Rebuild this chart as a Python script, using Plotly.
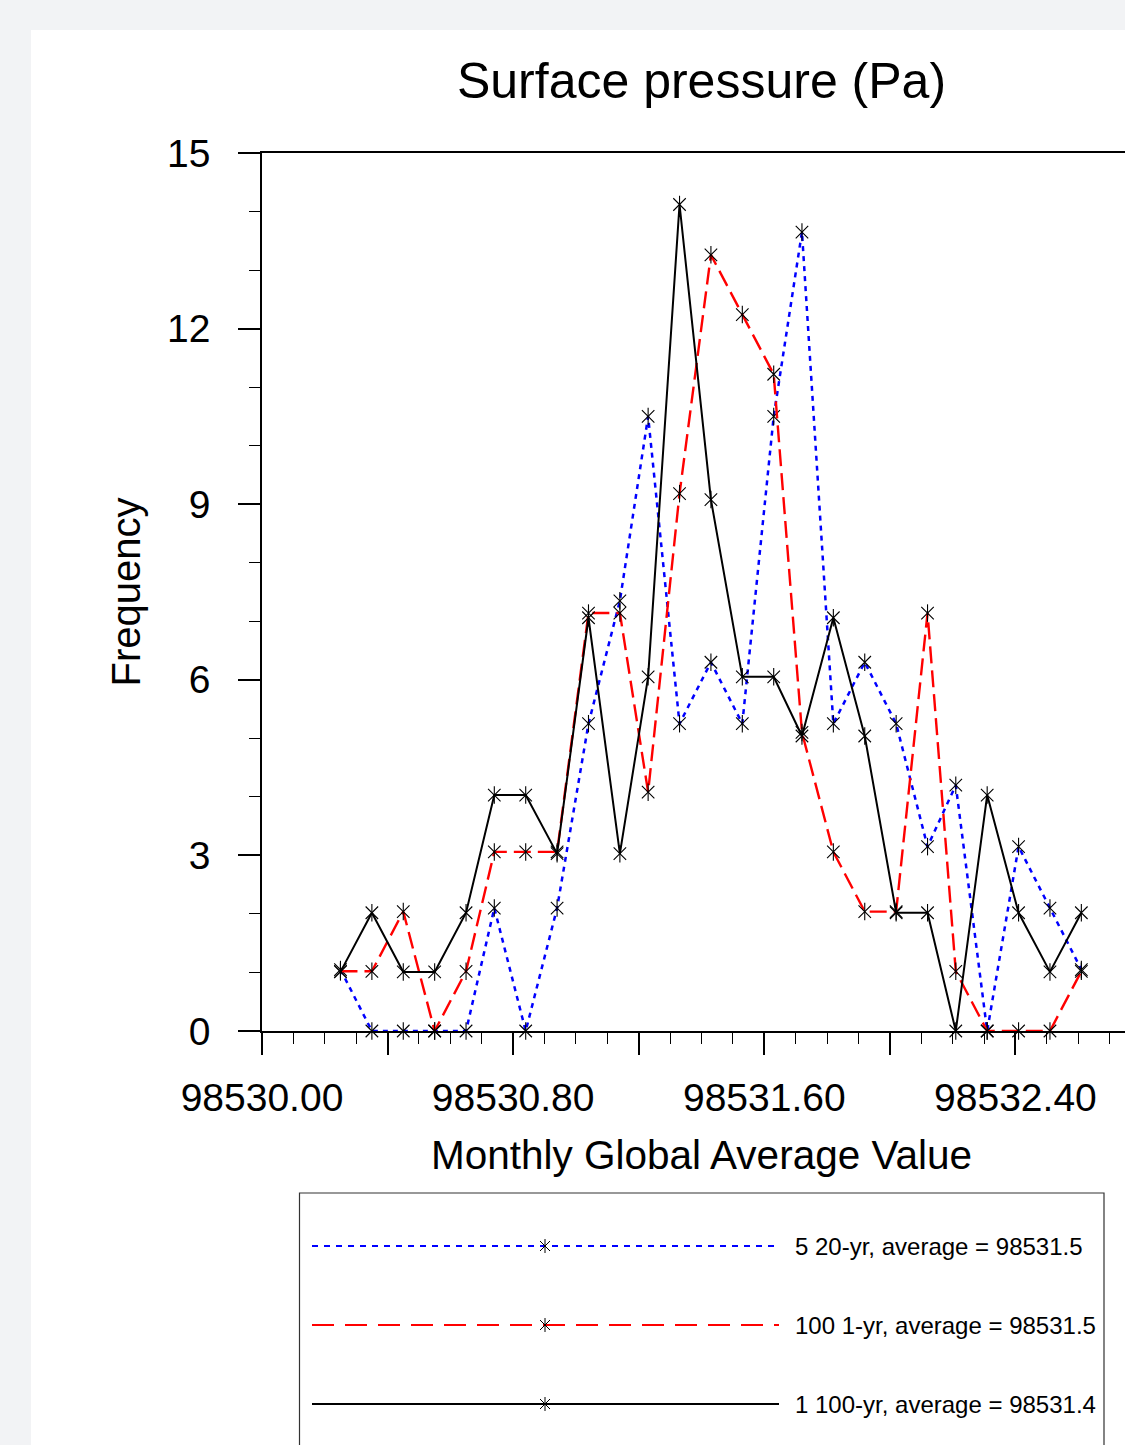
import plotly.graph_objects as go

# ---------------- data ----------------
x_centers = [98530.25, 98530.35, 98530.45, 98530.55, 98530.65, 98530.74, 98530.84,
             98530.94, 98531.04, 98531.14, 98531.23, 98531.33, 98531.43, 98531.53,
             98531.63, 98531.72, 98531.82, 98531.92, 98532.02, 98532.12, 98532.21,
             98532.31, 98532.41, 98532.51, 98532.61]

freq_5x20yr = [1.05, 0, 0, 0, 0, 2.1, 0, 2.1, 5.25, 7.35, 10.5, 5.25, 6.3, 5.25,
               10.5, 13.65, 5.25, 6.3, 5.25, 3.15, 4.2, 0, 3.15, 2.1, 1.05]
freq_100x1yr = [1.02, 1.02, 2.04, 0, 1.02, 3.06, 3.06, 3.06, 7.14, 7.14, 4.08, 9.18,
                13.26, 12.24, 11.22, 5.1, 3.06, 2.04, 2.04, 7.14, 1.02, 0, 0, 0, 1.02]
freq_1x100yr = [1.01, 2.02, 1.01, 1.01, 2.02, 4.03, 4.03, 3.03, 7.06, 3.03, 6.05, 14.12,
                9.08, 6.05, 6.05, 5.04, 7.06, 5.04, 2.02, 2.02, 0, 4.03, 2.02, 1.01, 2.02]

series_names = ["5 20-yr, average = 98531.5",
                "100 1-yr, average = 98531.5",
                "1 100-yr, average = 98531.4"]

y_tickvals = [0, 3, 6, 9, 12, 15]
x_tickvals = [98530.0, 98530.4, 98530.8, 98531.2, 98531.6, 98532.0, 98532.4, 98532.8]
x_ticktext = ["98530.00", "", "98530.80", "", "98531.60", "", "98532.40", ""]

# ---------------- styling ----------------
FONT = "Liberation Sans, Arial, Helvetica, sans-serif"
W, H = 1160, 1445
ML, MT, MR, MB = 262, 153, 19, 0
PW = W - ML - MR          # 879
PH = H - MT - MB          # 1292
y_dom_bottom = (H - 1031) / PH
leg_dom_top = (H - 1193) / PH

def px_x(p):
    return (p - ML) / PW

series_y = [freq_5x20yr, freq_100x1yr, freq_1x100yr]
styles = [
    dict(color="#0000ff", width=2.5, dash="5px,5px"),
    dict(color="#ff0000", width=2.4, dash="17px,7px"),
    dict(color="#000000", width=2.0, dash="solid"),
]
legend_dash = ["6px,6px", "22px,11px", "solid"]

MSIZE = 12.5

fig = go.Figure()

for yvals, st in zip(series_y, styles):
    fig.add_trace(go.Scatter(
        x=x_centers, y=yvals, mode="lines+markers",
        line=dict(color=st["color"], width=st["width"], dash=st["dash"]),
        marker=dict(symbol="x-thin-open", size=MSIZE, color="black",
                    line=dict(color="black", width=1.1)),
        showlegend=False, hoverinfo="x+y", cliponaxis=False))
    fig.add_trace(go.Scatter(
        x=x_centers, y=yvals, mode="markers",
        marker=dict(symbol="line-ns-open", size=MSIZE, color="black",
                    line=dict(color="black", width=1.1)),
        showlegend=False, hoverinfo="skip", cliponaxis=False))

# ---------------- custom legend (on a helper subplot) ----------------
leg_rows = [(1445 - 1246) / 252, (1445 - 1325) / 252, (1445 - 1404) / 252]
lx0, lx1, lxm, ltx = px_x(312), px_x(779), px_x(545), px_x(793)
for name, st, ldash, ry in zip(series_names, styles, legend_dash, leg_rows):
    fig.add_trace(go.Scatter(
        x=[lx0, lx1], y=[ry, ry], mode="lines", xaxis="x2", yaxis="y2",
        line=dict(color=st["color"], width=2, dash=ldash),
        showlegend=False, hoverinfo="skip"))
    fig.add_trace(go.Scatter(
        x=[lxm], y=[ry], mode="markers", xaxis="x2", yaxis="y2",
        marker=dict(symbol="x-thin-open", size=10, color="black",
                    line=dict(color="black", width=1)),
        showlegend=False, hoverinfo="skip"))
    fig.add_trace(go.Scatter(
        x=[lxm], y=[ry], mode="markers", xaxis="x2", yaxis="y2",
        marker=dict(symbol="line-ns-open", size=10, color="black",
                    line=dict(color="black", width=1)),
        showlegend=False, hoverinfo="skip"))
    fig.add_annotation(x=ltx, y=ry, xref="x2", yref="y2", text=name,
                       showarrow=False, xanchor="left", yanchor="middle",
                       font=dict(family=FONT, size=24, color="black"))

# ---------------- layout ----------------
fig.update_layout(
    width=W, height=H,
    margin=dict(l=ML, r=MR, t=MT, b=MB, pad=0),
    paper_bgcolor="#f2f3f5",
    plot_bgcolor="white",
    font=dict(family=FONT, color="black"),
    title=dict(text="Surface pressure (Pa)", x=0.5, xref="paper", xanchor="center",
               y=1 - 80 / H, yref="container", yanchor="middle",
               font=dict(family=FONT, size=50, color="black")),
    showlegend=False,
    xaxis=dict(
        range=[98530.0, 98532.8], domain=[0, 1], anchor="y",
        tickmode="array", tickvals=x_tickvals, ticktext=x_ticktext,
        ticks="outside", ticklen=22, tickwidth=1.5, tickcolor="black",
        minor=dict(ticks="outside", ticklen=11, tickwidth=1.2, tickcolor="black",
                   dtick=0.1, tick0=98530.0, showgrid=False),
        tickfont=dict(family=FONT, size=39, color="black"),
        ticklabelstandoff=9,
        showline=True, linewidth=2, linecolor="black", mirror=True,
        showgrid=False, zeroline=False, automargin=False,
        title=dict(text="Monthly Global Average Value", standoff=23,
                   font=dict(family=FONT, size=40.5, color="black")),
    ),
    yaxis=dict(
        range=[0, 15], domain=[y_dom_bottom, 1], anchor="x",
        tickmode="array", tickvals=y_tickvals,
        ticks="outside", ticklen=22, tickwidth=1.5, tickcolor="black",
        minor=dict(ticks="outside", ticklen=11, tickwidth=1.2, tickcolor="black",
                   dtick=1, tick0=0, showgrid=False),
        tickfont=dict(family=FONT, size=39, color="black"),
        ticklabelstandoff=20,
        showline=True, linewidth=1.5, linecolor="black", mirror=True,
        showgrid=False, zeroline=False, automargin=False,
        title=dict(text="Frequency", standoff=14,
                   font=dict(family=FONT, size=40, color="black")),
    ),
    xaxis2=dict(range=[0, 1], domain=[0, 1], anchor="y2", visible=False,
                fixedrange=True),
    yaxis2=dict(range=[0, 1], domain=[0, leg_dom_top], anchor="x2", visible=False,
                fixedrange=True),
    shapes=[
        dict(type="rect", xref="paper", yref="paper", layer="below",
             x0=(31 - ML) / PW, x1=1.2, y0=-0.2, y1=(H - 30) / PH,
             fillcolor="white", line=dict(width=0)),
        dict(type="rect", xref="paper", yref="paper", layer="above",
             x0=px_x(299.5), x1=px_x(1104), y0=-0.2, y1=leg_dom_top,
             fillcolor="rgba(0,0,0,0)", line=dict(color="#333333", width=1.2)),
    ],
)

fig.write_html("out.html",
               config={"displayModeBar": False},
               post_script="document.body.style.margin='0';"
                           "document.body.style.overflow='hidden';"
                           "document.body.style.background='#f2f3f5';")
